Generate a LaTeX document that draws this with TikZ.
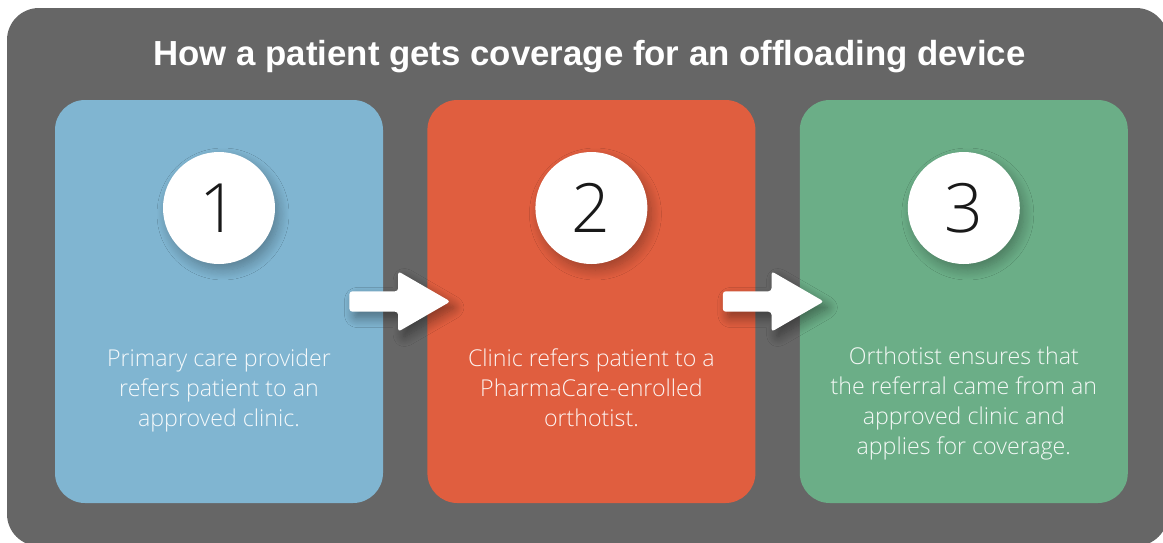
\documentclass[tikz,border=0pt]{standalone}
\usepackage{fontspec}
\usepackage{tikz}
\usetikzlibrary{positioning, shapes.arrows, shadows.blur}
\newfontfamily\headfont{Liberation Sans}
\newfontfamily\thinfont{Open Sans Light}

\definecolor{panelgrey}{HTML}{666666}
\definecolor{stepblue}{HTML}{80B5D1}
\definecolor{steporange}{HTML}{E05E3F}
\definecolor{stepgreen}{HTML}{6BAE87}

\tikzstyle{stepbox} = [rectangle, rounded corners=30pt, minimum width=328pt, minimum height=403pt, inner sep=0pt]
\tikzstyle{badge} = [circle, fill=white, minimum size=112pt, inner sep=0pt, text=black!90, font=\thinfont\fontsize{68}{68}\selectfont, blur shadow={shadow xshift=4pt, shadow yshift=-6pt, shadow blur radius=10pt, shadow blur steps=12, shadow opacity=30}]
\tikzstyle{caption} = [text=white, text opacity=0.92, align=center, inner sep=0pt, font=\thinfont\fontsize{23.2}{30}\selectfont]
\tikzstyle{fatarrow} = [single arrow, fill=white, draw=none, minimum width=0pt, minimum height=101pt, inner xsep=0pt, inner ysep=10pt, single arrow head extend=20pt, single arrow tip angle=60, rounded corners=3pt, blur shadow={shadow xshift=5pt, shadow yshift=-6pt, shadow blur radius=10pt, shadow blur steps=12, shadow opacity=40}]

\begin{document}
\begin{tikzpicture}[x=1pt, y=-1pt, node distance=44pt]
        \useasboundingbox (0,0) rectangle (1163,542);
        \fill[panelgrey, rounded corners=32pt] (7,8) rectangle (1168,546);

        \node (title) at (589.5,65) [anchor=base, text=white, font=\headfont\bfseries\fontsize{34.8}{40}\selectfont] {How a patient gets coverage for an offloading device};

        \node (step1) at (219,301.5) [stepbox, fill=stepblue] {};
        \node (step2) [stepbox, fill=steporange, right=of step1] {};
        \node (step3) [stepbox, fill=stepgreen, right=of step2] {};

        \node (num1) [badge, below=52pt of step1.north] {1};
        \node (num2) [badge, below=52pt of step2.north] {2};
        \node (num3) [badge, below=52pt of step3.north] {3};

        \node (text1) [caption, below=248.5pt of step1.north] {Primary care provider\\refers patient to an\\approved clinic.};
        \node (text2) [caption, below=248.5pt of step2.north] {Clinic refers patient to a\\PharmaCare-enrolled\\orthotist.};
        \node (text3) [caption, below=246.5pt of step3.north] {Orthotist ensures that\\the referral came from an\\approved clinic and\\applies for coverage.};

        \node (arrow1) [fatarrow, right=-34pt of step1.east] {};
        \node (arrow2) [fatarrow, right=-33pt of step2.east] {};
    \end{tikzpicture}
\end{document}
